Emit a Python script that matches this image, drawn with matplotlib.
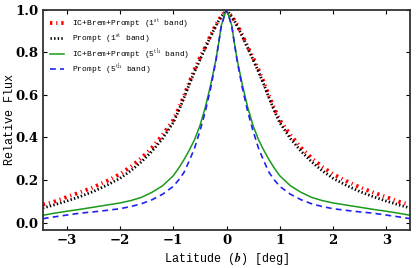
"""
Latitude profiles of relative flux for the 1st and 5th energy bands
"""

import numpy as np
import matplotlib
matplotlib.use('Agg')
import matplotlib.pyplot as plt

plt.rcParams.update({
    'mathtext.fontset': 'cm',
    'xtick.direction': 'in',
    'ytick.direction': 'in',
    'xtick.top': True,
    'ytick.right': True,
    'axes.linewidth': 1.3,
    'axes.edgecolor': '#333333',
    'axes.unicode_minus': True,
})

# latitude samples (deg)
latitude = [-3.45, -3.25, -3.0, -2.75, -2.5, -2.25, -2.0, -1.8, -1.6, -1.4, -1.2,
            -1.0, -0.9, -0.8, -0.7, -0.6, -0.5, -0.4, -0.3, -0.2, -0.15, -0.1, -0.05,
            0.0,
            0.05, 0.1, 0.15, 0.2, 0.3, 0.4, 0.5, 0.6, 0.7, 0.8, 0.9, 1.0,
            1.2, 1.4, 1.6, 1.8, 2.0, 2.25, 2.5, 2.75, 3.0, 3.25, 3.45]

ic_band1 = [0.084, 0.097, 0.120, 0.142, 0.166, 0.195, 0.228, 0.262, 0.303, 0.352, 0.412,
            0.482, 0.535, 0.595, 0.660, 0.720, 0.775, 0.825, 0.880, 0.930, 0.950, 0.970, 0.985,
            1.0,
            0.985, 0.970, 0.950, 0.930, 0.880, 0.825, 0.775, 0.720, 0.660, 0.595, 0.535, 0.482,
            0.412, 0.352, 0.303, 0.262, 0.228, 0.195, 0.166, 0.142, 0.120, 0.097, 0.084]

prompt_band1 = [0.068, 0.082, 0.101, 0.122, 0.146, 0.175, 0.208, 0.243, 0.285, 0.335, 0.395,
                0.470, 0.525, 0.585, 0.650, 0.710, 0.765, 0.820, 0.875, 0.925, 0.948, 0.968, 0.984,
                1.0,
                0.984, 0.968, 0.948, 0.925, 0.875, 0.820, 0.765, 0.710, 0.650, 0.585, 0.525, 0.470,
                0.395, 0.335, 0.285, 0.243, 0.208, 0.175, 0.146, 0.122, 0.101, 0.082, 0.068]

ic_band5 = [0.034, 0.043, 0.053, 0.062, 0.072, 0.082, 0.092, 0.103, 0.118, 0.142, 0.173,
            0.220, 0.255, 0.295, 0.340, 0.390, 0.455, 0.540, 0.645, 0.765, 0.840, 0.925, 0.965,
            1.0,
            0.965, 0.925, 0.840, 0.765, 0.645, 0.540, 0.455, 0.390, 0.340, 0.295, 0.255, 0.220,
            0.173, 0.142, 0.118, 0.103, 0.092, 0.082, 0.072, 0.062, 0.053, 0.043, 0.034]

prompt_band5 = [0.018, 0.026, 0.035, 0.044, 0.050, 0.057, 0.065, 0.075, 0.088, 0.107, 0.133,
                0.170, 0.200, 0.235, 0.290, 0.350, 0.430, 0.520, 0.630, 0.760, 0.840, 0.920, 0.965,
                1.0,
                0.965, 0.920, 0.840, 0.760, 0.630, 0.520, 0.430, 0.350, 0.290, 0.235, 0.200, 0.170,
                0.133, 0.107, 0.088, 0.075, 0.065, 0.057, 0.050, 0.044, 0.035, 0.026, 0.018]

x_ticks = [-3, -2, -1, 0, 1, 2, 3]
y_ticks = [0.0, 0.2, 0.4, 0.6, 0.8, 1.0]

mono = 'Liberation Mono'

fig = plt.figure(figsize=(4.16, 2.68), dpi=100)
ax = fig.add_axes([0.103, 0.142, 0.883, 0.821])

ax.plot(latitude, ic_band1, color='red', lw=2.8, ls=(0, (0.6, 1.0, 0.3, 1.0)),
        label=r'IC+Brem+Prompt (1$^{\rm st}$ band)')
ax.plot(latitude, prompt_band1, color='black', lw=2.0, ls=(0, (0.5, 0.8)),
        label=r'Prompt (1$^{\rm st}$ band)')
ax.plot(latitude, ic_band5, color='#1a9a1a', lw=1.1, ls='-',
        label=r'IC+Brem+Prompt (5$^{\rm th}$ band)')
ax.plot(latitude, prompt_band5, color='#2222ee', lw=1.2, ls=(0, (3.5, 2.5)),
        label=r'Prompt (5$^{\rm th}$ band)')

ax.set_xlim(-3.45, 3.45)
ax.set_ylim(-0.035, 1.0)

# bold serif tick labels
ax.set_xticks(x_ticks)
ax.set_xticklabels(['\u2212' + str(-t) if t < 0 else str(t) for t in x_ticks])
ax.set_yticks(y_ticks)
ax.set_yticklabels(['%.1f' % t for t in y_ticks])
ax.tick_params(labelsize=9.5, length=3, width=0.8, pad=3)
for lab in ax.get_xticklabels() + ax.get_yticklabels():
    lab.set_fontfamily('DejaVu Serif')
    lab.set_fontweight('bold')

ax.set_xlabel(r'Latitude ($\boldsymbol{b}$) [deg]', fontfamily=mono, fontsize=8.5, labelpad=2)
ax.set_ylabel('Relative Flux', fontfamily=mono, fontsize=8.5)
ax.yaxis.set_label_coords(-0.074, 0.5)

leg = ax.legend(loc='upper left', frameon=False, prop={'family': mono, 'size': 5.8},
                handlelength=1.8, handletextpad=1.0, labelspacing=0.2,
                borderaxespad=0.45)

fig.savefig('out.png', dpi=100)
